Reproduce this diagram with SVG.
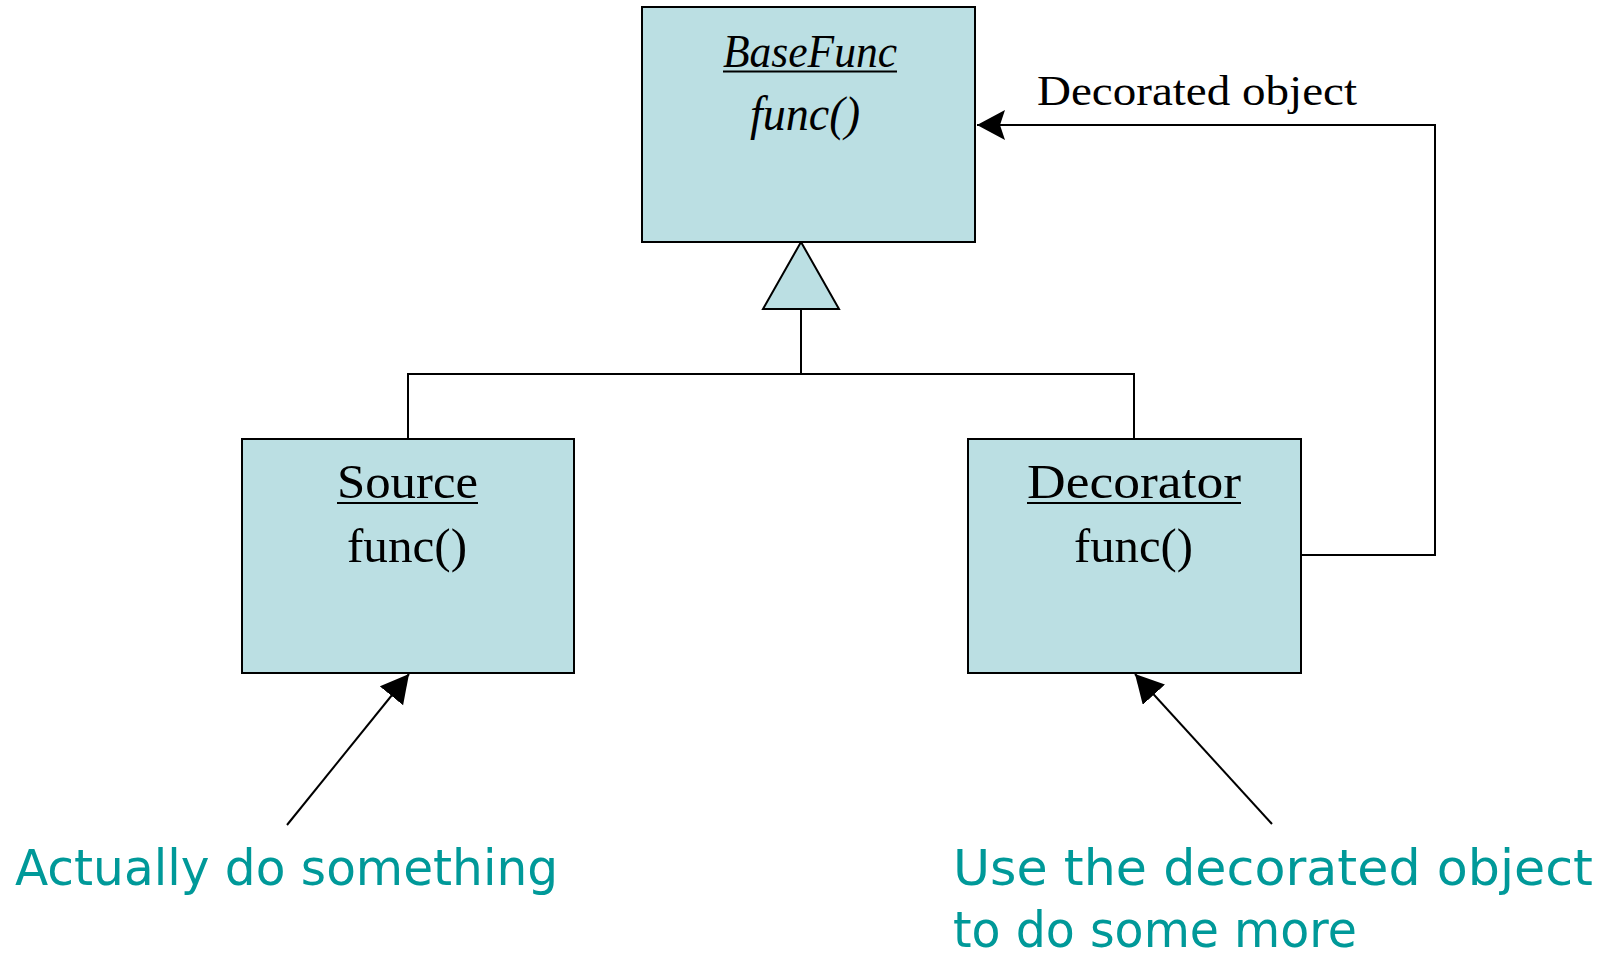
<svg xmlns="http://www.w3.org/2000/svg" width="1605" height="956" viewBox="0 0 1605 956">
  <style>
    .box { fill: #BBDFE3; stroke: #000; stroke-width: 2; }
    .wire { fill: none; stroke: #000; stroke-width: 2; }
    .serif { font-family: "Liberation Serif", "DejaVu Serif", serif; fill: #000; text-anchor: start; }
    .note { font-family: "DejaVu Sans", "Liberation Sans", sans-serif; fill: #009999; }
    .ul { stroke: #000; stroke-width: 2; }
  </style>
  <defs>
    <marker id="head" markerUnits="userSpaceOnUse" markerWidth="32" markerHeight="32" refX="28" refY="15" orient="auto">
      <path d="M0,0 L28,15 L0,30 L5,15 Z" fill="#000"/>
    </marker>
    <marker id="solid" markerUnits="userSpaceOnUse" markerWidth="32" markerHeight="32" refX="28" refY="15" orient="auto">
      <path d="M0,0 L28,15 L0,30 Z" fill="#000"/>
    </marker>
  </defs>

  <g id="connectors">
    <!-- inheritance tree -->
    <polyline class="wire" points="408,439 408,374 1134,374 1134,439"/>
    <line class="wire" x1="801" y1="309" x2="801" y2="374"/>
    <polygon class="box" points="801,242 839,309 763,309"/>
    <!-- decorated object reference -->
    <polyline class="wire" points="1301,555 1435,555 1435,125 977,125" marker-end="url(#head)"/>
    <!-- annotation pointers -->
    <line class="wire" x1="287" y1="825" x2="409" y2="674" marker-end="url(#solid)"/>
    <line class="wire" x1="1272" y1="824" x2="1135" y2="674" marker-end="url(#solid)"/>
  </g>

  <g id="basefunc">
    <rect class="box" x="642" y="7" width="333" height="235"/>
    <text class="serif" x="723" y="67" font-size="46" font-style="italic" textLength="174" lengthAdjust="spacingAndGlyphs">BaseFunc</text>
    <line class="ul" x1="723" y1="71.5" x2="897" y2="71.5"/>
    <text class="serif" x="750" y="130" font-size="48" font-style="italic" textLength="110" lengthAdjust="spacingAndGlyphs">func()</text>
  </g>

  <g id="source">
    <rect class="box" x="242" y="439" width="332" height="234"/>
    <text class="serif" x="337" y="498" font-size="48" textLength="141" lengthAdjust="spacingAndGlyphs">Source</text>
    <line class="ul" x1="337" y1="503" x2="478" y2="503"/>
    <text class="serif" x="347" y="562" font-size="48" textLength="120" lengthAdjust="spacingAndGlyphs">func()</text>
  </g>

  <g id="decorator">
    <rect class="box" x="968" y="439" width="333" height="234"/>
    <text class="serif" x="1027" y="498" font-size="48" textLength="214" lengthAdjust="spacingAndGlyphs">Decorator</text>
    <line class="ul" x1="1027" y1="503" x2="1241" y2="503"/>
    <text class="serif" x="1074" y="562" font-size="48" textLength="119" lengthAdjust="spacingAndGlyphs">func()</text>
  </g>

  <g id="label-decorated">
    <text class="serif" x="1037" y="105" font-size="42" textLength="320" lengthAdjust="spacingAndGlyphs">Decorated object</text>
  </g>

  <g id="note-source">
    <text class="note" x="15" y="885" font-size="50" textLength="543" lengthAdjust="spacingAndGlyphs">Actually do something</text>
  </g>

  <g id="note-decorator">
    <text class="note" x="953" y="885" font-size="50" textLength="640" lengthAdjust="spacingAndGlyphs">Use the decorated object</text>
    <text class="note" x="953" y="947" font-size="50" textLength="404" lengthAdjust="spacingAndGlyphs">to do some more</text>
  </g>
</svg>
